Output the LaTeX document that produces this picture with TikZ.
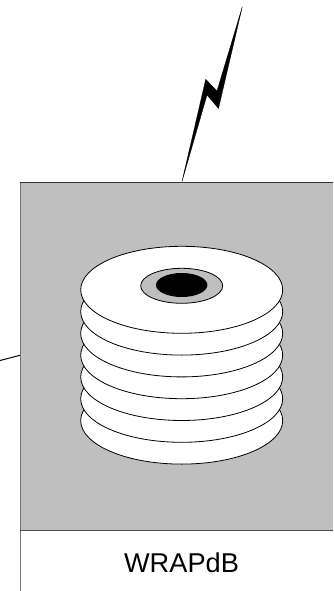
\documentclass[tikz,border=0pt]{standalone}
\usepackage{fontspec}
\setmainfont{Liberation Sans}
\begin{document}
\begin{tikzpicture}[x=1pt,y=-1pt,
  disk/.style={draw=black,fill=white,line width=0.8pt},
  edgeline/.style={draw=black!55,line width=1pt},
  bolt/.style={fill=black,draw=black,line width=0.3pt,line join=miter}]
\useasboundingbox (0,0) rectangle (333,591);
\fill[white] (0,0) rectangle (333,591);
\fill[black!25] (20,182) rectangle (333,530);
\draw[edgeline] (20,591) -- (20,182);
\draw[edgeline,draw=black!80] (20,182) -- (333,182);
\draw[edgeline,draw=black!70] (20,530) -- (333,530);
\coordinate (leftend) at (0,360.5);
\coordinate (leftjoin) at (20,355.3);
\draw[black,line width=1pt] (leftend) -- (leftjoin);
\fill[bolt] (242.3,6.7) -- (218.5,108.5) -- (207,95) -- (182,181.5) -- (205.7,79.3) -- (217,91) -- cycle;
\foreach \cy in {420.6,398.8,377,355.2,333.4,311.6,289.8}
  \draw[disk] (181.7,\cy) ellipse [x radius=101,y radius=43.5];
\draw[draw=black,fill=black!25,line width=0.8pt] (181.7,285.8) ellipse [x radius=41,y radius=17.5];
\fill[black] (181.7,285) ellipse [x radius=25.7,y radius=12];
\node[font=\fontsize{27.2}{30}\selectfont,text=black,anchor=base,inner sep=0pt] (label) at (181.5,572.5) {WRAPdB};
\end{tikzpicture}
\end{document}
